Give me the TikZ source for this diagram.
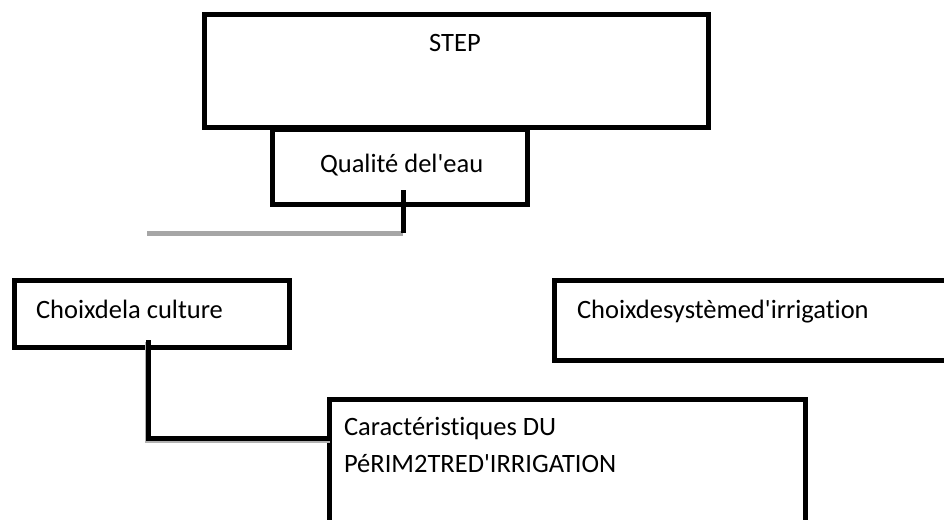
\documentclass[tikz,border=0pt]{standalone}
\usepackage{fontspec}
\setmainfont{Carlito}[Ligatures=NoCommon]
\begin{document}
\begin{tikzpicture}[x=1pt,y=-1pt,
  box/.style={draw=black,line width=5pt,fill=white,rectangle,inner sep=0pt,outer sep=0pt,anchor=north west},
  lbl/.style={font=\fontsize{26.5}{37}\selectfont,inner sep=0pt,outer sep=0pt,anchor=base west,align=left},
  conn/.style={line width=5pt,draw=black},
  shade/.style={line width=5pt,draw=black!35}]
\useasboundingbox (0,0) rectangle (944,519);
% boxes
\node[box,minimum width=504pt,minimum height=113pt] (step) at (204.5,14.5) {};
\node[box,minimum width=255pt,minimum height=75pt] (qual) at (272.5,129.5) {};
\node[box,minimum width=275pt,minimum height=67pt] (cult) at (14.5,280.5) {};
\node[box,minimum width=400pt,minimum height=80pt] (syst) at (554.5,280.5) {};
\node[box,minimum width=476pt,minimum height=140pt] (cara) at (329.5,399.5) {};
% labels
\node[lbl,anchor=base] (tstep) at (455,52) {STEP};
\node[lbl] (tqual) at (320,172) {Qualité del\textquotesingle eau};
\node[lbl] (tcult) at (36,318) {Choixdela culture};
\node[lbl] (tsyst) at (577,318) {Choixdesystèmed\textquotesingle irrigation};
\node[lbl] (tcara) at (344,472) {Caractéristiques DU\\PéRIM2TRED\textquotesingle IRRIGATION};
% connectors
\coordinate (q1) at (403,190);
\coordinate (q2) at (403,233);
\coordinate (q3) at (147,233);
\draw[shade] (q2) -- (q3);
\draw[conn] (q1) -- (q2);
\coordinate (c1) at (148,340);
\coordinate (c2) at (148,438);
\draw[line width=5pt,draw=black!30] ([shift={(-1,2)}]c1) -- ([shift={(-1,2)}]c2) -- ([shift={(0,2)}]c2 -| cara.west);
\draw[conn] (c1) -- (c2) -- (c2 -| cara.west);
\end{tikzpicture}
\end{document}
